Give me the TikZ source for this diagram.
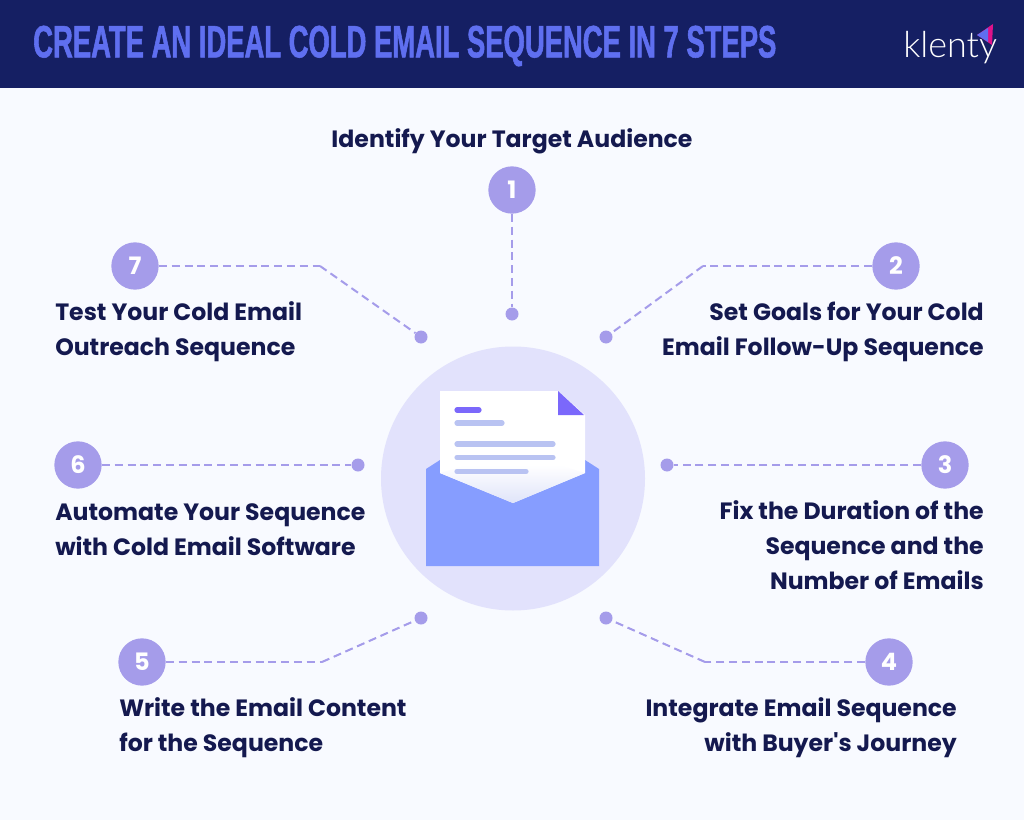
\documentclass[tikz,border=0pt]{standalone}
\usepackage{fontspec}
\usepackage{xcolor}
\setmainfont{Poppins}
\newfontfamily\titlefont[FakeStretch=0.605,BoldFeatures={FakeBold=1.2}]{Liberation Sans}
\newfontfamily\logofont{Lato Light}
\definecolor{pagebg}{HTML}{F8FAFF}
\definecolor{headbg}{HTML}{151F63}
\definecolor{titleblue}{HTML}{5F6FF0}
\definecolor{inkblue}{HTML}{14194F}
\definecolor{stepviolet}{HTML}{A59CEA}
\definecolor{haloviolet}{HTML}{E2E2FC}
\definecolor{envblue}{HTML}{869DFF}
\definecolor{foldviolet}{HTML}{7B68FB}
\definecolor{rulegrey}{HTML}{B9C3F2}
\usetikzlibrary{arrows}

\begin{document}
\begin{tikzpicture}[x=0.75pt,y=-0.75pt,
		stepnum/.style={circle,fill=stepviolet,text=white,inner sep=0pt,minimum size=35.5pt,font=\bfseries\fontsize{18}{18}\selectfont},
		stepdot/.style={circle,fill=stepviolet,inner sep=0pt,minimum size=9.75pt},
		steptext/.style={inner sep=0pt,text=inkblue,font=\bfseries\fontsize{17.7}{26.25}\selectfont},
		paperrule/.style={line width=3.9pt,line cap=round,rulegrey}]
		\useasboundingbox (0,0) rectangle (1024,820);
		\fill[pagebg] (0,0) rectangle (1024,820);
		\fill[headbg] (0,0) rectangle (1024,88);
		\node[anchor=west,inner sep=0pt,text=titleblue,font=\titlefont\bfseries\fontsize{34}{34}\selectfont] (title) at (33,46) {CREATE AN IDEAL COLD EMAIL SEQUENCE IN 7 STEPS};
		\node[anchor=base west,inner sep=0pt,text=white,font=\logofont\fontsize{27}{27}\selectfont] (logo) at (903,58) {klenty};
		\fill[magenta!85!violet] (993,24) -- (977,35) -- (992,45) -- cycle;
		\fill[titleblue] (977,35) -- (988,28) -- (988,42) -- cycle;
		%
		\fill[haloviolet] (513,478.5) circle (132);
		\fill[envblue] (426,469) -- (440,460) -- (585,460) -- (599,469) -- (599,566) -- (426,566) -- cycle;
		\fill[white] (440,391) -- (558,391) -- (585,415) -- (585,473) -- (513,503) -- (440,473) -- cycle;
		\shade[top color=white,bottom color=rulegrey!45] (440,473) -- (468,465) -- (558,465) -- (585,473) -- (513,503) -- cycle;
		\fill[foldviolet] (558,391) -- (584,415) -- (558,415) -- cycle;
		\draw[line width=3.9pt,line cap=round,foldviolet] (457,410) -- (479,410);
		\draw[paperrule] (457,423) -- (502,423);
		\draw[paperrule] (457,444) -- (553,444);
		\draw[paperrule] (457,457.5) -- (553,457.5);
		\draw[paperrule] (457,471.5) -- (526,471.5);
		%
		\node[stepnum] (N1) at (512,190) {1};
		\node[stepnum] (N2) at (896,266) {2};
		\node[stepnum] (N3) at (945,465) {3};
		\node[stepnum] (N4) at (889,662) {4};
		\node[stepnum] (N5) at (142,662) {5};
		\node[stepnum] (N6) at (78,465) {6};
		\node[stepnum] (N7) at (135,266) {7};
		\node[stepdot] (D1) at (512,314) {};
		\node[stepdot] (D2) at (606,337) {};
		\node[stepdot] (D3) at (667,465) {};
		\node[stepdot] (D4) at (606,618) {};
		\node[stepdot] (D5) at (421,618) {};
		\node[stepdot] (D6) at (358,465) {};
		\node[stepdot] (D7) at (421,337) {};
		\coordinate (E2) at (703,266);
		\coordinate (E4) at (705,662);
		\coordinate (E5) at (322,662);
		\coordinate (E7) at (320,266);
		%
		\path[stepviolet,line width=1.5pt,dash pattern=on 6pt off 3.6pt]
		(N1) edge (D1)
		(N2) edge (E2)
		(E2) edge (D2)
		(N3) edge (D3)
		(N4) edge (E4)
		(E4) edge (D4)
		(N5) edge (E5)
		(E5) edge (D5)
		(N6) edge (D6)
		(N7) edge (E7)
		(E7) edge (D7);
		%
		\node[steptext,anchor=center] (T1) at (512,141.5) {Identify Your Target Audience};
		\node[steptext,anchor=east,align=right] (T2) at (984,332) {Set Goals for Your Cold\\Email Follow-Up Sequence};
		\node[steptext,anchor=east,align=right] (T3) at (984,545) {Fix the Duration of the\\Sequence and the\\Number of Emails};
		\node[steptext,anchor=east,align=right] (T4) at (957,728) {Integrate Email Sequence\\with Buyer\textquotesingle s Journey};
		\node[steptext,anchor=west,align=left] (T5) at (119,728) {Write the Email Content\\for the Sequence};
		\node[steptext,anchor=west,align=left] (T6) at (55,530) {Automate Your Sequence\\with Cold Email Software};
		\node[steptext,anchor=west,align=left] (T7) at (55,332) {Test Your Cold Email\\Outreach Sequence};
	\end{tikzpicture}
\end{document}
